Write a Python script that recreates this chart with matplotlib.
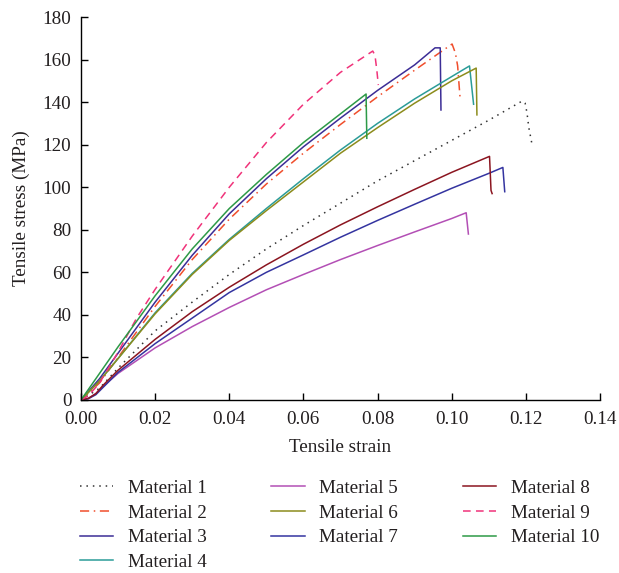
import matplotlib
matplotlib.use("Agg")
import matplotlib.pyplot as plt

# Stress-strain curves (strain, MPa)
m1_strain = [0, 0.005, 0.01, 0.02, 0.03, 0.04, 0.05, 0.06, 0.07, 0.08, 0.09, 0.10, 0.11, 0.119, 0.1198, 0.1203, 0.1208, 0.1216]
m1_stress = [0, 5.5, 15, 32.5, 46, 59, 71, 82, 92.5, 103, 112.5, 122, 131.5, 140.5, 139.5, 135, 128, 120.7]

m2_strain = [0, 0.005, 0.01, 0.02, 0.03, 0.04, 0.05, 0.06, 0.07, 0.08, 0.09, 0.1001, 0.1010, 0.1016, 0.1019, 0.1023]
m2_stress = [0, 8, 20, 44, 66, 85, 101.5, 116, 129.5, 142.5, 155, 167.3, 163, 157, 150, 141]

m3_strain = [0, 0.005, 0.01, 0.02, 0.03, 0.04, 0.05, 0.06, 0.07, 0.08, 0.09, 0.0955, 0.0969, 0.0971]
m3_stress = [0, 10, 22, 46, 68, 87.5, 104, 119, 132.5, 145.5, 157.5, 165.5, 165.5, 136.3]

m4_strain = [0, 0.005, 0.01, 0.02, 0.03, 0.04, 0.05, 0.06, 0.07, 0.08, 0.09, 0.10, 0.1048, 0.1059]
m4_stress = [0, 9, 19.5, 41, 59.5, 75.5, 90, 104, 117.5, 130, 141.5, 152, 157, 139]

m5_strain = [0, 0.002, 0.004, 0.006, 0.01, 0.02, 0.03, 0.04, 0.05, 0.06, 0.07, 0.08, 0.09, 0.10, 0.1039, 0.1045]
m5_stress = [0, 0.8, 3, 6.5, 12.5, 24.5, 34.5, 43.5, 51.8, 59, 66, 72.6, 79, 85.3, 88, 78]

m6_strain = [0, 0.005, 0.01, 0.02, 0.03, 0.04, 0.05, 0.06, 0.07, 0.08, 0.09, 0.10, 0.1066, 0.1068]
m6_stress = [0, 9, 19.5, 40.5, 59, 75, 89, 102.5, 116, 128, 139.5, 150, 156, 134]

m7_strain = [0, 0.002, 0.004, 0.006, 0.01, 0.02, 0.03, 0.04, 0.05, 0.06, 0.07, 0.08, 0.09, 0.10, 0.11, 0.1138, 0.1143]
m7_stress = [0, 0.6, 2.5, 6, 13, 26.5, 38.5, 50.5, 60, 68.2, 76.5, 84.4, 92, 99.5, 106.5, 109.3, 97.9]

m8_strain = [0, 0.002, 0.004, 0.006, 0.01, 0.02, 0.03, 0.04, 0.05, 0.06, 0.07, 0.08, 0.09, 0.10, 0.1102, 0.1106, 0.1109]
m8_stress = [0, 0.8, 3, 7, 14, 28.5, 41.5, 53, 63.5, 73.2, 82.3, 90.8, 99, 107, 114.5, 98.5, 97]

m9_strain = [0, 0.002, 0.005, 0.01, 0.015, 0.02, 0.03, 0.04, 0.05, 0.06, 0.07, 0.0787, 0.0793, 0.0798, 0.0802]
m9_stress = [0, 2, 8, 22.5, 38.5, 52, 77, 100, 121, 139, 154, 164, 162, 155, 148]

m10_strain = [0, 0.005, 0.01, 0.02, 0.03, 0.04, 0.05, 0.06, 0.07, 0.0769, 0.0771]
m10_stress = [0, 12.5, 25, 49, 71, 90, 106, 121, 134.5, 143.8, 123]

labels = ["Material %d" % i for i in range(1, 11)]

# (strain, stress, colour, linestyle)
SERIES = [
    (m1_strain, m1_stress, "#333333", (0, (1, 3.2))),
    (m2_strain, m2_stress, "#f04e2c", (0, (6, 3, 1, 3))),
    (m3_strain, m3_stress, "#3c2d96", "-"),
    (m4_strain, m4_stress, "#2b9c98", "-"),
    (m5_strain, m5_stress, "#b34fb5", "-"),
    (m6_strain, m6_stress, "#8c8c1c", "-"),
    (m7_strain, m7_stress, "#3434a0", "-"),
    (m8_strain, m8_stress, "#8b1520", "-"),
    (m9_strain, m9_stress, "#f0337a", (0, (5, 3.5))),
    (m10_strain, m10_stress, "#2d9a47", "-"),
]

TEXT = "#231f20"
plt.rcParams["font.family"] = ["Liberation Serif", "DejaVu Serif"]
plt.rcParams["font.size"] = 13.8

fig = plt.figure(figsize=(6.19, 5.73), dpi=100)
ax = fig.add_axes([81 / 619, 1 - 400 / 573, (600 - 81) / 619, (400 - 17) / 573])

for (xs, ys, color, ls), lab in zip(SERIES, labels):
    ax.plot(xs, ys, color=color, linestyle=ls, linewidth=1.1, label=lab)

ax.set_xlim(0, 0.14)
ax.set_ylim(0, 180)
ax.set_xticks([0, 0.02, 0.04, 0.06, 0.08, 0.10, 0.12, 0.14])
ax.set_xticklabels(["0.00", "0.02", "0.04", "0.06", "0.08", "0.10", "0.12", "0.14"])
ax.set_yticks(range(0, 181, 20))
ax.tick_params(direction="in", length=5, width=1, colors="black", labelcolor=TEXT)
ax.tick_params(axis="x", pad=8)
ax.tick_params(axis="y", pad=7)
for side in ("top", "right"):
    ax.spines[side].set_visible(False)
for side in ("left", "bottom"):
    ax.spines[side].set_linewidth(1)

ax.set_xlabel("Tensile strain", color=TEXT, labelpad=8)
ax.set_ylabel("Tensile stress (MPa)", color=TEXT, labelpad=9)

handles, labs = ax.get_legend_handles_labels()
fig.legend(handles, labs, ncol=3, frameon=False,
           loc="upper left", bbox_to_anchor=(70 / 619, 1 - 470 / 573),
           borderpad=0, handlelength=1.75, handletextpad=0.75,
           columnspacing=3.38, labelspacing=0.38, labelcolor=TEXT)

fig.savefig("out.png", dpi=100)
